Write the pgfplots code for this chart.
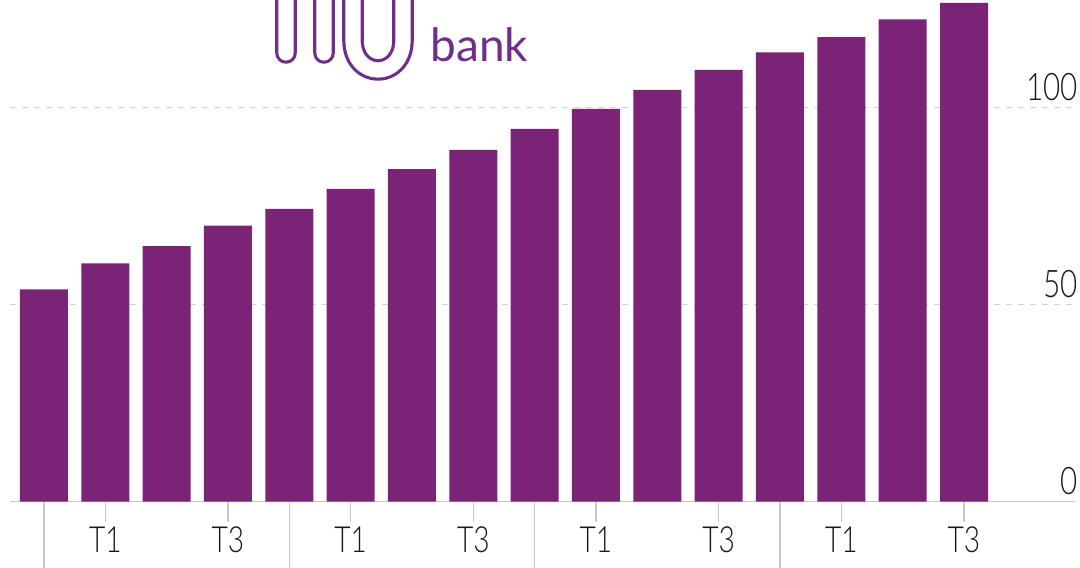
\documentclass[border=0pt]{standalone}
\usepackage{fontspec}
\setmainfont{Lato Light}[FakeStretch=0.78]
\newfontfamily\logofont{Lato}
\usepackage{pgfplots}
\pgfplotsset{compat=1.18}
\definecolor{barpurple}{RGB}{123,35,119}
\definecolor{logopurple}{RGB}{112,46,140}
\definecolor{linegray}{RGB}{200,200,200}
\definecolor{gridgray}{RGB}{210,210,210}
\definecolor{txt}{RGB}{25,25,25}
\begin{document}
\begin{tikzpicture}
\begin{axis}[
  at={(0pt,0pt)}, anchor=south west,
  scale only axis, width=532.5pt, height=250.75pt,
  xmin=-0.554, xmax=16.81, ymin=0, ymax=127.2,
  axis x line=bottom, axis y line=right,
  axis line style={-},
  x axis line style={draw=linegray, line width=0.6pt},
  y axis line style={draw=none},
  tick align=outside,
  xtick={1,3,5,7,9,11,13,15},
  xticklabels={T1,T3,T1,T3,T1,T3,T1,T3},
  x tick style={draw=linegray, line width=0.6pt},
  major tick length=10pt,
  extra x ticks={0,4,8,12},
  extra x tick labels={},
  extra x tick style={major tick length=36pt, tick style={draw=linegray, line width=0.6pt}, grid=none},
  ytick={0,50,100},
  y tick style={draw=none},
  ymajorgrids,
  grid style={draw=gridgray, line width=0.6pt, dash pattern=on 3pt off 3pt},
  /pgf/number format/assume math mode=true,
  tick label style={font=\fontsize{18}{20}\selectfont, text=txt},
  xticklabel style={anchor=center, yshift=-9pt},
  yticklabel style={anchor=south east, inner sep=0pt, xshift=-8.5pt, yshift=3pt, font=\fontsize{19}{20}\selectfont},
  ybar, bar width=24pt,
  clip=false,
]
\addplot[fill=barpurple, draw=none] coordinates {
(0,53.8) (1,60.4) (2,64.8) (3,70.0) (4,74.2) (5,79.3) (6,84.3) (7,89.2)
(8,94.5) (9,99.6) (10,104.4) (11,109.5) (12,113.9) (13,117.8) (14,122.3) (15,126.5)
};
\end{axis}
\begin{scope}[shift={(-5pt,250.75pt)}, x=0.5pt, y=-0.5pt]
  \draw[logopurple, line width=1.6pt, double=white, double distance=7.6pt, line cap=round, line join=round]
    (286,53) -- (286,0) .. controls (286,-25) and (324,-25) .. (324,0) -- (324,53);
  \draw[logopurple, line width=1.6pt, double=white, double distance=7.6pt, line cap=round, line join=round]
    (353,-30) -- (353,40) .. controls (353,80) and (403,80) .. (403,40) -- (403,-30);
  \node[text=logopurple, font=\logofont\fontsize{23}{25}\selectfont, anchor=base west, inner sep=0pt] at (430,62) {bank};
\end{scope}
\pgfresetboundingbox
\useasboundingbox (-5pt,-32.75pt) rectangle (535pt,250.75pt);
\end{tikzpicture}
\end{document}
